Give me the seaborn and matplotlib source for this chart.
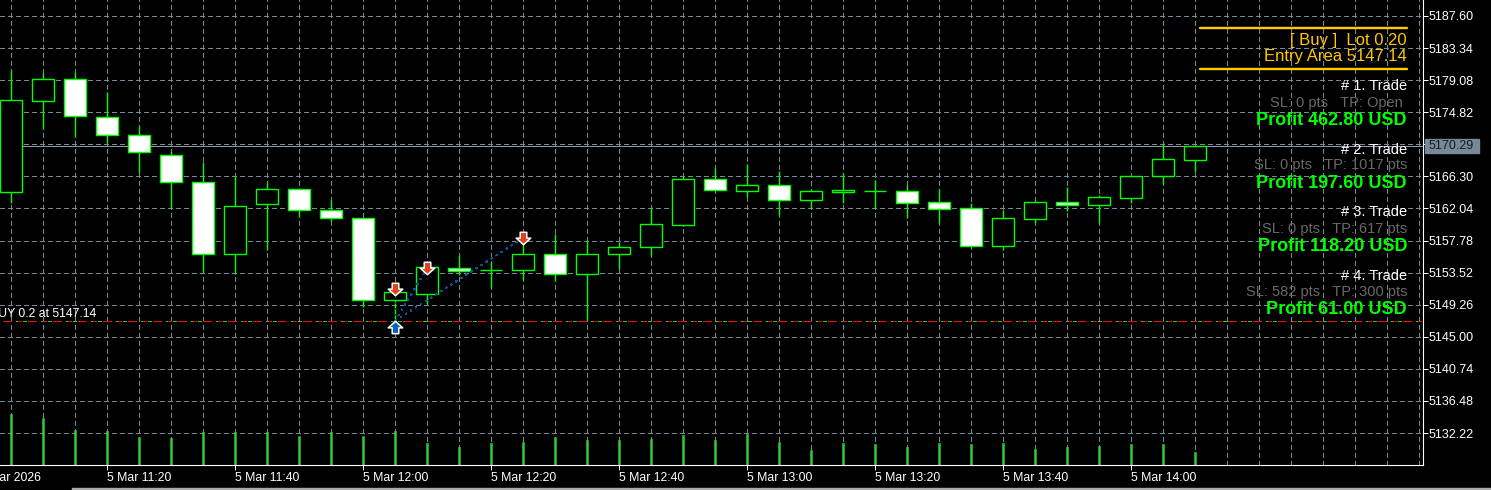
import pandas as pd
import seaborn as sns
import matplotlib.pyplot as plt
from matplotlib.patches import Rectangle
from matplotlib.path import Path

W, H = 1491, 490
PLOT_W, PLOT_H = 1423, 465

opens = [5164.19, 5176.35, 5179.19, 5174.15, 5171.76, 5169.18, 5165.52, 5155.96, 5162.60, 5164.59,
         5161.80, 5160.74, 5149.85, 5150.72, 5154.10, 5153.82, 5153.91, 5155.96, 5153.30, 5155.96,
         5156.97, 5159.89, 5165.92, 5164.40, 5165.12, 5163.21, 5164.27, 5164.32, 5164.32, 5162.86,
         5162.06, 5157.10, 5160.68, 5162.86, 5162.54, 5163.47, 5166.39, 5168.52]
highs = [5180.43, 5179.99, 5180.20, 5177.47, 5172.99, 5169.63, 5168.17, 5166.31, 5165.52, 5164.72,
         5163.13, 5160.74, 5152.24, 5154.40, 5155.86, 5154.97, 5157.46, 5158.61, 5157.86, 5157.63,
         5162.28, 5166.39, 5167.38, 5167.91, 5167.06, 5164.67, 5166.79, 5165.82, 5165.16, 5164.67,
         5162.81, 5161.84, 5163.17, 5164.85, 5163.83, 5166.39, 5170.70, 5170.29]
lows = [5162.81, 5172.56, 5171.57, 5170.78, 5166.79, 5161.97, 5153.43, 5153.30, 5156.49, 5160.95,
        5160.42, 5149.00, 5147.01, 5149.36, 5153.21, 5151.44, 5152.50, 5152.45, 5147.23, 5154.04,
        5155.77, 5159.71, 5164.45, 5163.61, 5161.21, 5162.01, 5162.81, 5162.01, 5160.74, 5160.15,
        5156.97, 5156.53, 5160.15, 5161.71, 5160.15, 5162.81, 5165.25, 5166.92]
closes = [5176.41, 5179.19, 5174.28, 5171.76, 5169.50, 5165.52, 5155.96, 5162.33, 5164.59, 5161.80,
          5160.74, 5149.85, 5150.91, 5154.23, 5153.78, 5153.92, 5155.96, 5153.30, 5155.96, 5156.89,
          5159.94, 5165.92, 5164.45, 5165.12, 5163.21, 5164.32, 5164.45, 5164.32, 5162.81, 5162.01,
          5157.10, 5160.74, 5162.86, 5162.54, 5163.53, 5166.31, 5168.57, 5170.29]
volumes = [51, 47, 35, 34, 28, 27, 33, 33, 33, 29, 33, 29, 34, 22, 18, 22, 23, 28, 25,
           25, 26, 30, 25, 31, 23, 15, 22, 21, 18, 22, 21, 22, 16, 18, 19, 21, 21, 13]

price_ticks = [5187.60, 5183.34, 5179.08, 5174.82, 5170.56, 5166.30, 5162.04, 5157.78,
               5153.52, 5149.26, 5145.00, 5140.74, 5136.48, 5132.22]
last_price = 5170.29
entry_price = 5147.14

time_labels = ["5 Mar 2026", "5 Mar 11:20", "5 Mar 11:40", "5 Mar 12:00", "5 Mar 12:20", "5 Mar 12:40",
               "5 Mar 13:00", "5 Mar 13:20", "5 Mar 13:40", "5 Mar 14:00"]
time_bars = [-1, 3, 7, 11, 15, 19, 23, 27, 31, 35]

entry_bar = 12
exit_bars = [12, 13, 16]
exit_prices = [5151.30, 5154.14, 5158.12]

header_lines = ["[ Buy ]  Lot 0.20", "Entry Area 5147.14"]
trade_titles = ["# 1. Trade", "# 2. Trade", "# 3. Trade", "# 4. Trade"]
trade_stops = ["SL: 0 pts   TP: Open ", "SL: 0 pts   TP: 1017 pts", "SL: 0 pts   TP: 617 pts", "SL: 582 pts   TP: 300 pts"]
trade_profits = ["Profit 462.80 USD", "Profit 197.60 USD", "Profit 118.20 USD", "Profit 61.00 USD"]

GREEN = "#00ff00"
GRID = "#778899"
GOLD = "#ffc800"
PX = 0.72  # one pixel in points at dpi 100
X_LIM = (-11.25 / 32, (PLOT_W - 11.25) / 32)  # bar i sits on pixel column 11 + 32 * i

sns.set_theme(style="dark", rc={"figure.facecolor": "black", "axes.facecolor": "black", "savefig.facecolor": "black",
                                "lines.scale_dashes": False})
plt.rcParams["font.family"] = ["Liberation Sans", "DejaVu Sans"]

df = pd.DataFrame({"bar": range(len(opens)), "open": opens, "high": highs, "low": lows, "close": closes, "volume": volumes})
df["top"] = df[["open", "close"]].max(axis=1)
df["bottom"] = df[["open", "close"]].min(axis=1)

fig = plt.figure(figsize=(W / 100, H / 100), dpi=100)
ax = fig.add_axes([0, (H - PLOT_H) / H, PLOT_W / W, PLOT_H / H])

# tick volume has its own scale at the foot of the chart
ax_vol = ax.twinx()
ax_vol.set_zorder(ax.get_zorder() + 1)
ax_vol.patch.set_visible(False)
sns.barplot(data=df, x="bar", y="volume", native_scale=True, width=2 / 32, color="#32cd32", saturation=1,
            edgecolor="#32cd32", linewidth=0.5 * PX, ax=ax_vol)
ax_vol.set_ylim(0, PLOT_H)
ax_vol.axis("off")

ax.set_xlim(*X_LIM)
ax.set_ylim(5127.98, 5189.72)
ax.set_axisbelow(True)

grid_bars = list(range(45))
ax.set_xticks([b for b in time_bars if b >= 0])
ax.set_xticklabels([])
ax.set_xticks(grid_bars, minor=True)
ax.set_yticks(price_ticks)
ax.set_yticklabels([f"{p:.2f}" if p != 5170.56 else "" for p in price_ticks], fontsize=9, color="white")
ax.yaxis.tick_right()
ax.tick_params(axis="y", length=3.6, width=PX, color="white", pad=0.6, right=True, left=False, labelright=True, labelleft=False)
ax.tick_params(axis="x", which="major", length=3.5, width=PX, color="white", bottom=True)
ax.tick_params(axis="x", which="minor", length=0)
ax.grid(True, axis="both", which="both", color=GRID, lw=PX, ls=(0, (5 * PX, 3 * PX)), antialiased=False)

for side in ["left", "top"]:
    ax.spines[side].set_visible(False)
for side in ["right", "bottom"]:
    ax.spines[side].set_color("white")
    ax.spines[side].set_linewidth(1.1 * PX)

for t, b in zip(time_labels, time_bars):
    ax.annotate(t, (b, 0), xycoords=("data", "axes fraction"), xytext=(0, -12 * PX - 0.5), textcoords="offset points",
                ha="left", va="center", fontsize=8.8, color="white", annotation_clip=False)

# levels
ax.axhline(last_price, color="#8c9cb0", lw=PX, antialiased=False, zorder=1.5)
ax.axhline(entry_price, color="#32cd32", lw=PX, ls=(12 * PX, (3 * PX, 3 * PX, 3 * PX, 15 * PX)), xmin=3 / PLOT_W, antialiased=False, zorder=1.6)
ax.axhline(entry_price, color="#f01010", lw=PX, ls=(0, (9 * PX, 6 * PX, 3 * PX, 6 * PX)), xmin=3 / PLOT_W, antialiased=False, zorder=1.7)

# candles
for bar, low, high in zip(df["bar"], lows, highs):
    ax.plot([bar, bar], [low, high], color=GREEN, lw=1.4 * PX, snap=True, solid_capstyle="butt", zorder=2)
ax.bar(df["bar"], df["top"] - df["bottom"], bottom=df["bottom"], width=22 / 32,
       color=["black" if c >= o else "white" for o, c in zip(opens, closes)],
       edgecolor=GREEN, linewidth=1.4 * PX, zorder=3)

# trade lines and arrows
for b, p in zip(exit_bars, exit_prices):
    ax.plot([entry_bar, b], [entry_price, p], color="#0d4f96", lw=PX, ls=(0, (2 * PX, 5 * PX)), antialiased=False, zorder=4)

sell_arrow = Path([(-0.45, 0.85), (0.45, 0.85), (0.45, 0.05), (1, 0.05), (0, -0.85), (-1, 0.05), (-0.45, 0.05), (-0.45, 0.85)], closed=True)
buy_arrow = Path([(-0.45, -0.85), (0.45, -0.85), (0.45, -0.05), (1, -0.05), (0, 0.85), (-1, -0.05), (-0.45, -0.05), (-0.45, -0.85)], closed=True)
sns.scatterplot(x=exit_bars, y=exit_prices, marker=sell_arrow, s=110, color="#e0401c", edgecolor="white", linewidth=1.1, zorder=5, ax=ax)
sns.scatterplot(x=[entry_bar], y=[entry_price - 0.8], marker=buy_arrow, s=110, color="#0a64b4", edgecolor="white", linewidth=1.1, zorder=5, ax=ax)
ax.set_xlim(*X_LIM)


def label(px, py, text, **kw):
    fig.text(px / W, 1 - py / H, text, ha=kw.pop("ha", "right"), va="center", **kw)


label(96, 314, "BUY 0.2 at 5147.14", fontsize=8.8, color="white")

# price box
fig.patches.append(Rectangle((1425 / W, 1 - 153 / H), 54 / W, 14 / H, transform=fig.transFigure, color=GRID, zorder=3))
label(1429, 146, f"{last_price:.2f}", ha="left", fontsize=9, color="#1a1a1a", zorder=4)

# info panel
for py in [28, 69]:
    fig.add_artist(plt.Line2D([1200 / W, 1407 / W], [1 - py / H, 1 - py / H], color=GOLD, lw=2.4 * PX))
for py, text in zip([40, 56], header_lines):
    label(1407, py + 0.5, text, fontsize=12, color=GOLD)
for py, title, stops, profit in zip([86, 149, 212, 275], trade_titles, trade_stops, trade_profits):
    label(1407, py + 0.5, title, fontsize=10.5, color="white")
    label(1407, py + 16.5, stops, fontsize=10.5, color="#696969")
    label(1407, py + 34.5, profit, fontsize=13, color=GREEN, fontweight="bold")

# window edge along the bottom
fig.patches.append(Rectangle((72 / W, 0), (W - 72) / W, 2 / H, transform=fig.transFigure, color="#a9a9a9"))

plt.savefig("out.png", dpi=100)
